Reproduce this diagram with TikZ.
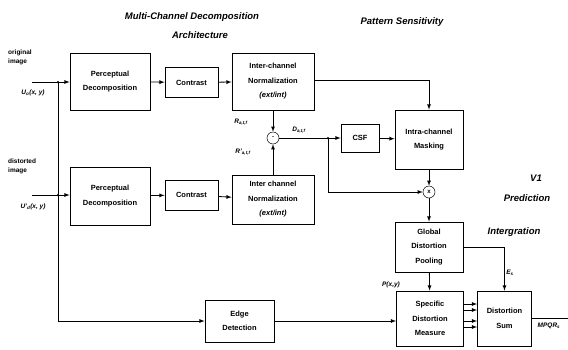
\documentclass[tikz,border=0pt]{standalone}
\usepackage{fontspec}
\setmainfont{Liberation Sans}
\usepackage{tikz}
\usetikzlibrary{arrows}
\usetikzlibrary{positioning}

\tikzset{
	block/.style={draw, line width={0.8pt}, align=center, inner sep=0pt,
		font=\fontsize{7.5}{14.5}\selectfont\bfseries},
	heading/.style={font=\fontsize{9.5}{11}\selectfont\bfseries\itshape},
	lbl/.style={font=\fontsize{6.5}{9}\selectfont\bfseries, align=left, inner sep=0pt},
	op/.style={draw, circle, line width={0.5pt}, minimum size={12pt}, inner sep=0pt,
		font=\fontsize{6}{7}\selectfont\bfseries},
	flow/.style={-latex, line width={0.8pt}},
	wire/.style={-, line width={0.8pt}},
	jdot/.style={circle, fill, inner sep=0pt, minimum size={2.5pt}},
}

\begin{document}
\begin{tikzpicture}[x=1pt, y=-1pt]
	\useasboundingbox (0, 0) rectangle (568, 349);

	% headings
	\node[heading] (hMulti) at (192, 17) {Multi-Channel Decomposition};
	\node[heading] (hArch) at (200, 35) {Architecture};
	\node[heading] (hPattern) at (402, 22) {Pattern Sensitivity};
	\node[heading] (hV1) at (536, 178) {V1};
	\node[heading] (hPred) at (527, 198) {Prediction};
	\node[heading] (hInteg) at (514, 232) {Intergration};

	% original image path
	\node[block, minimum width={80pt}, minimum height={57pt}] (pdOrig) at (110, 81.5)
		{Perceptual\\Decomposition};
	\node[block, minimum width={53pt}, minimum height={30pt}] (contrastOrig) at (191.5, 82.5)
		{Contrast};
	\node[block, minimum width={82pt}, minimum height={57pt}] (normOrig) at (273, 81.5)
		{Inter-channel\\Normalization\\\itshape(ext/int)};

	% distorted image path
	\node[block, minimum width={80pt}, minimum height={58pt}] (pdDist) at (110, 196)
		{Perceptual\\Decomposition};
	\node[block, minimum width={53pt}, minimum height={30pt}] (contrastDist) at (191.5, 195)
		{Contrast};
	\node[block, minimum width={82pt}, minimum height={49pt}] (normDist) at (273, 199.5)
		{Inter channel\\Normalization\\\itshape(ext/int)};

	% pattern sensitivity
	\node[op] (diff) at (273, 138) {-};
	\node[block, minimum width={38pt}, minimum height={28pt}] (csf) at (360, 138) {CSF};
	\node[block, minimum width={68pt}, minimum height={59pt}] (masking) at (429, 139.5)
		{Intra-channel\\Masking};
	\node[op] (mult) at (429, 192) {x};
	\node[block, minimum width={68pt}, minimum height={50pt}] (pooling) at (429, 247)
		{Global\\Distortion\\Pooling};
	\node[block, minimum width={67pt}, minimum height={55pt}] (measure) at (430, 318.5)
		{Specific\\Distortion\\Measure};
	\node[block, minimum width={54pt}, minimum height={55pt}] (sum) at (504.5, 318.5)
		{Distortion\\Sum};
	\node[block, minimum width={69pt}, minimum height={42pt}] (edge) at (239.5, 321)
		{Edge\\Detection};

	% input labels
	\node[lbl, anchor=west] (tOrig) at (8, 57) {original\\image};
	\node[lbl, anchor=west] (tDist) at (8, 166) {distorted\\image};
	\node[lbl] (tUo) at (33, 93) {\itshape U\textsubscript{o}(x, y)};
	\node[lbl] (tUd) at (33, 207) {\itshape U'\textsubscript{d}(x, y)};
	\node[lbl] (tR) at (241, 122) {\itshape R\textsubscript{a,t,f}};
	\node[lbl] (tRd) at (243, 152) {\itshape R'\textsubscript{a,t,f}};
	\node[lbl] (tD) at (299, 130) {\itshape D\textsubscript{a,t,f}};
	\node[lbl] (tP) at (391, 285) {\itshape P(x,y)};
	\node[lbl] (tE) at (510, 273) {\itshape E\textsubscript{s}};
	\node[lbl] (tOut) at (549, 326) {\itshape MPQR\textsubscript{s}};

	% inputs and junctions
	\coordinate (inOrig) at (32, 82);
	\coordinate (inDist) at (32, 195);
	\coordinate (jOrig) at (58, 82);
	\coordinate (jDist) at (58, 195);
	\coordinate (jDiff) at (328, 138);
	\coordinate (outEnd) at (568, 318);

	\draw[flow] (inOrig) -- (pdOrig.west |- inOrig);
	\draw[flow] (inDist) -- (pdDist.west |- inDist);
	\node[jdot] at (jOrig) {};
	\node[jdot] at (jDist) {};
	\draw[flow] (jOrig) |- (edge.west);

	\draw[flow] (pdOrig) -- (contrastOrig);
	\draw[flow] (contrastOrig) -- (normOrig);
	\draw[flow] (pdDist) -- (contrastDist);
	\draw[flow] (contrastDist) -- (normDist);

	\draw[flow] (normOrig.south) -- (diff.north);
	\draw[flow] (normDist.north) -- (diff.south);
	\draw[flow] (normOrig.east |- 0, 80) -| (masking.north);
	\draw[flow] (diff.east) -- (csf.west);
	\node[jdot] at (jDiff) {};
	\draw[flow] (jDiff) |- (mult.west);
	\draw[flow] (csf) -- (masking);
	\draw[flow] (masking) -- (mult);
	\draw[flow] (mult) -- (pooling);
	\draw[flow] (pooling) -- (measure);
	\draw[flow] (pooling.east) -| (sum.north);
	\draw[flow] (edge.east) -- (measure.west |- edge.east);

	\foreach \yy in {304, 310, 321, 327} {
		\coordinate (tap) at (0, \yy);
		\draw[flow] (measure.east |- tap) -- (sum.west |- tap);
	}

	\draw[wire] (sum.east |- outEnd) -- (outEnd);
\end{tikzpicture}
\end{document}
